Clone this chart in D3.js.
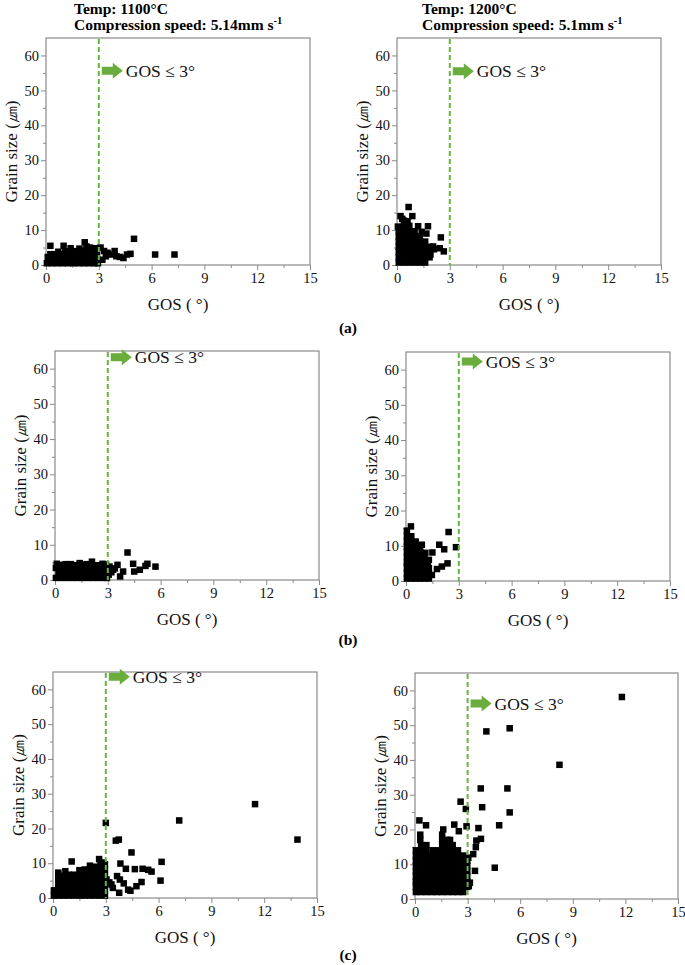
<!DOCTYPE html>
<html><head><meta charset="utf-8">
<script src="https://cdn.jsdelivr.net/npm/d3@7"></script>
<style>body{margin:0;background:#fff}svg{display:block}</style>
</head><body>
<svg id="c" width="685" height="965"></svg>
<script>
// ---------- DATA ----------
const xTicks = [0, 3, 6, 9, 12, 15];
const yTicks = [0, 10, 20, 30, 40, 50, 60];
const xDomain = [0, 15];
const yDomain = [0, 65];
const thresholdGOS = 3;
const panelLabels = ["(a)", "(b)", "(c)"];
const headers = [
  {temp: "Temp: 1100°C", speed: "Compression speed: 5.14mm s"},
  {temp: "Temp: 1200°C", speed: "Compression speed: 5.1mm s"}
];
const arrowLevel = [55.6, 55.5, 63.2, 62.3, 63.6, 56.2];

const dataA1 = [
 [0.05,0.5],[0.35,0.5],[0.65,0.5],[0.95,0.5],[1.25,0.5],[1.55,0.5],[1.85,0.5],[2.15,0.5],[2.45,0.5],[2.75,0.5],[2.95,0.5],
 [0.2,1.4],[0.5,1.4],[0.8,1.4],[1.1,1.4],[1.4,1.4],[1.7,1.4],[2.0,1.4],[2.3,1.4],[2.6,1.4],[2.9,1.4],
 [0.1,2.3],[0.4,2.3],[0.7,2.3],[1.0,2.3],[1.3,2.3],[1.6,2.3],[1.9,2.3],[2.2,2.3],[2.5,2.3],[2.8,2.3],
 [0.25,3.1],[0.55,3.1],[0.85,3.1],[1.15,3.1],[1.45,3.1],[1.75,3.1],[2.05,3.1],[2.35,3.1],[2.65,3.1],[2.9,3.1],
 [0.7,3.8],[1.1,3.9],[1.5,3.9],[1.8,4.0],[2.1,4.1],[2.4,4.3],[2.7,4.0],
 [0.25,5.5],[1.0,5.5],[2.2,6.5],[1.4,4.8],[2.5,5.0],[2.8,4.8],[1.9,4.7],[2.3,5.3],
 [3.1,5.0],[3.3,4.0],[3.5,3.5],[3.7,3.0],[3.9,4.0],[4.0,2.5],[3.2,1.5],[3.4,2.5],[4.2,2.3],[4.4,2.0],
 [4.6,3.0],[4.8,3.2],[5.0,7.5],[6.2,3.0],[7.3,3.0]
];
const dataA2 = [
 [0.1,0.7],[0.1,2.2],[0.1,3.7],[0.1,5.2],[0.1,6.7],[0.1,8.2],[0.1,9.7],
 [0.4,0.7],[0.4,2.2],[0.4,3.7],[0.4,5.2],[0.4,6.7],[0.4,8.2],[0.4,9.7],[0.4,11.2],[0.4,12.7],
 [0.7,0.7],[0.7,2.2],[0.7,3.7],[0.7,5.2],[0.7,6.7],[0.7,8.2],[0.7,9.7],[0.7,11.2],
 [1.0,0.7],[1.0,2.2],[1.0,3.7],[1.0,5.2],[1.0,6.7],[1.0,8.2],[1.0,9.7],
 [1.3,0.7],[1.3,2.2],[1.3,3.7],[1.3,5.2],[1.3,6.7],[1.3,8.2],
 [1.6,0.7],[1.6,2.2],[1.6,3.7],[1.6,5.2],[1.6,6.7],
 [1.85,2.2],[1.85,3.7],[1.85,5.2],
 [0.66,16.6],[0.87,14],[1.2,11.1],[1.76,11.1],[2.49,7.9],[2.43,4.8],[2.66,3.9],[2.05,5.3],
 [1.67,9],[1.4,9.5],[0.2,14],[0.3,13.2],[0.05,11],[1.9,3],[2.1,4.5],[0.6,12.5]
];
const dataB1 = [
 [0.05,0.6],[0.35,0.6],[0.65,0.6],[0.95,0.6],[1.25,0.6],[1.55,0.6],[1.85,0.6],[2.15,0.6],[2.45,0.6],[2.75,0.6],[2.95,0.6],
 [0.2,2.0],[0.5,2.0],[0.8,2.0],[1.1,2.0],[1.4,2.0],[1.7,2.0],[2.0,2.0],[2.3,2.0],[2.6,2.0],[2.9,2.0],
 [0.05,3.4],[0.35,3.4],[0.65,3.4],[0.95,3.4],[1.25,3.4],[1.55,3.4],[1.85,3.4],[2.15,3.4],[2.45,3.4],[2.75,3.4],[2.95,3.4],
 [0.1,4.6],[0.35,4.3],[0.6,4.5],[0.9,4.5],[1.1,4.2],[1.4,4.8],[1.6,4.3],[1.8,4.5],[2.1,5.2],[2.4,4.2],[2.7,4.6],[2.9,4.4],
 [3.1,3.8],[3.3,2.9],[3.4,3.3],[3.55,4.3],[3.7,1.0],[3.87,2.4],[4.12,7.8],[4.44,4.6],[4.5,2.4],
 [4.82,2.9],[5.14,4.0],[5.25,4.6],[5.71,3.8],[3.05,1.5],[3.2,2.2]
];
const dataB2 = [
 [0.05,0.7],[0.05,2.2],[0.05,3.7],[0.05,5.2],[0.05,6.7],[0.05,8.2],[0.05,9.7],[0.05,11.2],[0.05,12.7],
 [0.3,0.7],[0.3,2.2],[0.3,3.7],[0.3,5.2],[0.3,6.7],[0.3,8.2],[0.3,9.7],[0.3,11.2],[0.3,12.7],
 [0.55,0.7],[0.55,2.2],[0.55,3.7],[0.55,5.2],[0.55,6.7],[0.55,8.2],[0.55,9.7],[0.55,11.2],
 [0.8,0.7],[0.8,2.2],[0.8,3.7],[0.8,5.2],[0.8,6.7],[0.8,8.2],[0.8,9.7],
 [1.05,0.7],[1.05,2.2],[1.05,3.7],[1.05,5.2],[1.05,6.7],
 [1.3,0.7],[1.3,2.2],[1.3,3.7],
 [0.05,14.3],[0.28,15.5],[2.42,13.9],[2.84,9.6],[1.89,10.3],[2.17,9],[1.5,8.1],[0.9,10.3],
 [2.36,5],[2.04,4.1],[1.76,3.4],[1.47,1.7],[1.23,4.6],[1.1,8],[1.3,6]
];
const dataC1 = [
 [0.05,0.7],[0.05,2.2],
 [0.3,0.7],[0.3,2.2],[0.3,3.7],[0.3,5.2],[0.3,6.7],[0.3,7.3],
 [0.6,0.7],[0.6,2.2],[0.6,3.7],[0.6,5.2],[0.6,6.2],
 [0.9,0.7],[0.9,2.2],[0.9,3.7],[0.9,5.2],[0.9,6.7],
 [1.2,0.7],[1.2,2.2],[1.2,3.7],[1.2,5.2],[1.2,6.7],
 [1.5,0.7],[1.5,2.2],[1.5,3.7],[1.5,5.2],[1.5,6.7],[1.5,8.0],
 [1.8,0.7],[1.8,2.2],[1.8,3.7],[1.8,5.2],[1.8,6.7],[1.8,8.2],
 [2.1,0.7],[2.1,2.2],[2.1,3.7],[2.1,5.2],[2.1,6.7],[2.1,8.2],[2.1,9.3],
 [2.4,0.7],[2.4,2.2],[2.4,3.7],[2.4,5.2],[2.4,6.7],[2.4,8.2],[2.4,9.0],
 [2.7,0.7],[2.7,2.2],[2.7,3.7],[2.7,5.2],[2.7,6.7],[2.7,8.2],[2.7,9.7],[2.62,11.2],
 [2.95,0.7],[2.95,2.2],[2.95,3.7],[2.95,5.2],[2.95,6.7],[2.95,8.2],[2.95,9.7],
 [1.06,10.5],[2.85,10.2],[3.04,5.3],[3.32,3.9],[3.4,2.9],[3.0,21.6],[3.57,16.5],[3.74,16.8],
 [4.46,13.1],[6.17,10.4],[6.11,5],[3.83,9.9],[4.14,8.4],[4.65,8.3],[5.09,8.4],[5.41,8.1],[5.6,7.6],
 [3.64,6.3],[3.8,5.3],[4.02,4.2],[4.27,2.4],[4.4,2.1],[3.76,1.5],[4.74,3.4],[5.03,4.6],
 [7.17,22.3],[11.48,27],[13.89,16.8],[0.7,7.7],[3.2,4.5]
];
const dataC2 = [
 [0.05,2],[0.05,3.5],[0.05,5],[0.05,6.5],[0.05,8],[0.05,9.5],[0.05,11],[0.05,12.5],[0.05,14],
 [0.35,2],[0.35,3.5],[0.35,5],[0.35,6.5],[0.35,8],[0.35,9.5],[0.35,11],[0.35,12.5],[0.35,14],[0.35,15.5],[0.3,17],[0.3,18.5],
 [0.65,2],[0.65,3.5],[0.65,5],[0.65,6.5],[0.65,8],[0.65,9.5],[0.65,11],[0.65,12.5],[0.65,14],[0.65,15.5],
 [0.95,2],[0.95,3.5],[0.95,5],[0.95,6.5],[0.95,8],[0.95,9.5],[0.95,11],[0.95,12.5],
 [1.25,2],[1.25,3.5],[1.25,5],[1.25,6.5],[1.25,8],[1.25,9.5],[1.25,11],[1.25,12.5],[1.25,14],
 [1.55,2],[1.55,3.5],[1.55,5],[1.55,6.5],[1.55,8],[1.55,9.5],[1.55,11],[1.55,12.5],[1.55,14],[1.55,15.5],[1.55,17],[1.55,18.5],
 [1.85,2],[1.85,3.5],[1.85,5],[1.85,6.5],[1.85,8],[1.85,9.5],[1.85,11],[1.85,12.5],[1.85,14],[1.85,15.5],[1.85,17],
 [2.15,2],[2.15,3.5],[2.15,5],[2.15,6.5],[2.15,8],[2.15,9.5],[2.15,11],[2.15,12.5],[2.15,14],[2.15,15.5],
 [2.45,2],[2.45,3.5],[2.45,5],[2.45,6.5],[2.45,8],[2.45,9.5],[2.45,11],[2.45,12.5],[2.45,14],
 [2.75,2],[2.75,3.5],[2.75,5],[2.75,6.5],[2.75,8],[2.75,9.5],[2.75,11],[2.75,12.5],
 [2.98,3.5],[2.98,5],[2.98,6.5],[2.98,8],[2.98,9.5],[2.98,11],
 [11.8,58.1],[4.07,48.2],[5.4,49.1],[8.24,38.6],[3.75,31.8],[5.27,31.8],[2.6,28],[2.9,25.9],[3.83,26.4],
 [5.4,24.9],[4.8,21.2],[3.62,20.4],[2.94,20.9],[2.5,19.5],[2.24,21.4],[0.63,21.2],[0.25,22.6],[1.61,20],
 [3.42,8.1],[4.55,9],[3.76,17.3],[3.5,16.8],[3.47,14.9],[3.32,12.9],[3.04,11.9],[3.13,4.7],[3.07,3.7],
 [1.0,14],[2.0,17]
];
const seriesList = [dataA1, dataA2, dataB1, dataB2, dataC1, dataC2];

// ---------- LAYOUT ----------
const boxes = [
  {l:46, r:310, t:38, b:265},
  {l:397, r:661, t:38, b:265},
  {l:55, r:319, t:351, b:580},
  {l:406, r:670, t:352, b:581},
  {l:53, r:317, t:672, b:898},
  {l:415, r:678, t:673, b:899}
];
const serif = "'Liberation Serif', 'Times New Roman', serif";
const frameCol = "#8a8a8a";
const green = "#66b443";

const svg = d3.select("#c");

seriesList.forEach((data, i) => {
  const bx = boxes[i];
  const x = d3.scaleLinear().domain(xDomain).range([bx.l, bx.r]);
  const y = d3.scaleLinear().domain(yDomain).range([bx.b, bx.t]);
  const g = svg.append("g");

  const xMinor = d3.range(1.5, 15, 3);
  const yMinor = d3.range(5, 65, 10);
  g.append("g").attr("transform", `translate(0,${bx.b})`)
    .call(d3.axisBottom(x).tickValues(xMinor).tickSize(3).tickFormat(""))
    .call(a => a.select(".domain").remove())
    .call(a => a.selectAll("line").attr("stroke", frameCol));
  g.append("g").attr("transform", `translate(${bx.l},0)`)
    .call(d3.axisLeft(y).tickValues(yMinor).tickSize(3).tickFormat(""))
    .call(a => a.select(".domain").remove())
    .call(a => a.selectAll("line").attr("stroke", frameCol));

  const ax = g.append("g").attr("transform", `translate(0,${bx.b})`)
    .call(d3.axisBottom(x).tickValues(xTicks).tickSize(5).tickPadding(3).tickSizeOuter(0));
  const ay = g.append("g").attr("transform", `translate(${bx.l},0)`)
    .call(d3.axisLeft(y).tickValues(yTicks).tickSize(5).tickPadding(2).tickSizeOuter(0));
  [ax, ay].forEach(a => {
    a.attr("font-family", serif).attr("font-size", 14.5);
    a.select(".domain").remove();
    a.selectAll("line").attr("stroke", frameCol);
    a.selectAll("text").style("font-family", serif).attr("fill", "#111");
  });

  g.append("rect").attr("x", bx.l).attr("y", bx.t)
    .attr("width", bx.r - bx.l).attr("height", bx.b - bx.t)
    .attr("fill", "none").attr("stroke", frameCol).attr("stroke-width", 1.2);

  const s = 6.5;
  g.append("g").selectAll("rect").data(data).join("rect")
    .attr("x", d => x(d[0]) - s/2).attr("y", d => y(d[1]) - s/2)
    .attr("width", s).attr("height", s).attr("fill", "#000");

  const lx = x(thresholdGOS);
  g.append("line").attr("x1", lx).attr("x2", lx).attr("y1", bx.t + 1).attr("y2", bx.b)
    .attr("stroke", green).attr("stroke-width", 2).attr("stroke-dasharray", "5,3");

  const ay0 = y(arrowLevel[i]);
  const ax0 = lx + 3;
  const pts = [[ax0, ay0-4],[ax0+11, ay0-4],[ax0+11, ay0-8],[ax0+21, ay0],[ax0+11, ay0+8],[ax0+11, ay0+4],[ax0, ay0+4]];
  g.append("polygon").attr("points", pts.map(p => p.join(",")).join(" ")).attr("fill", "#6aad3d");
  g.append("text").attr("x", ax0 + 24).attr("y", ay0 + 6)
    .style("font-family", serif).attr("font-size", 17.5).attr("fill", "#111")
    .text("GOS ≤ 3°");

  g.append("text").attr("x", (bx.l + bx.r) / 2).attr("y", bx.b + 45)
    .attr("text-anchor", "middle").style("font-family", serif).attr("font-size", 17).attr("fill", "#111")
    .text("GOS ( °)");
  g.append("text")
    .attr("transform", `translate(${bx.l - 29},${(bx.t + bx.b) / 2}) rotate(-90)`)
    .attr("text-anchor", "middle").style("font-family", serif).attr("font-size", 17).attr("fill", "#111")
    .text("Grain size (㎛)");
});

headers.forEach((h, j) => {
  const x0 = j === 0 ? 74 : 422;
  svg.append("text").attr("x", x0).attr("y", 14)
    .style("font-family", serif).attr("font-weight", "bold").attr("font-size", 15.5).text(h.temp);
  const t = svg.append("text").attr("x", x0).attr("y", 30)
    .style("font-family", serif).attr("font-weight", "bold").attr("font-size", 15.5);
  t.append("tspan").text(h.speed);
  t.append("tspan").attr("dy", -6).attr("font-size", 10.5).text("-1");
});

const letterY = [333, 645, 960];
panelLabels.forEach((lab, k) => {
  svg.append("text").attr("x", 348).attr("y", letterY[k]).attr("text-anchor", "middle")
    .style("font-family", serif).attr("font-weight", "bold").attr("font-size", 15.5).text(lab);
});
</script>
</body></html>
